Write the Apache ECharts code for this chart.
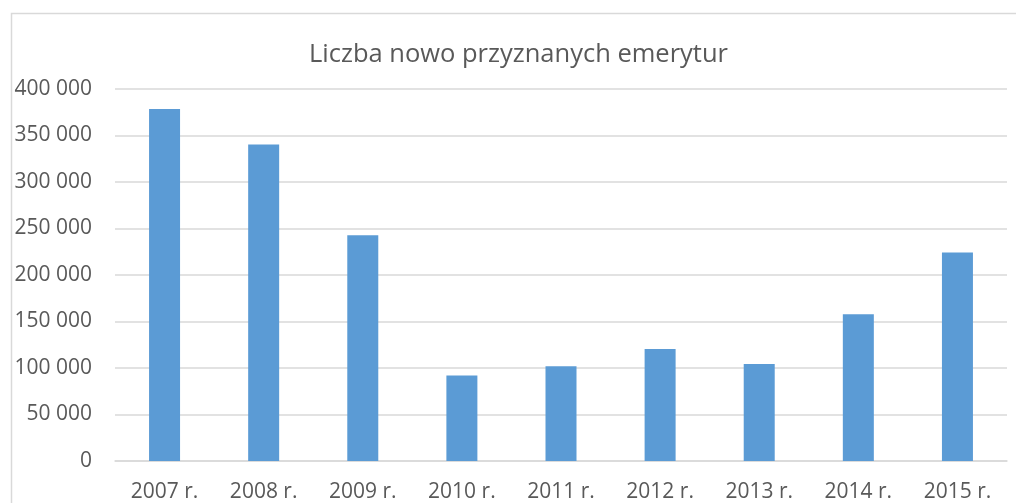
<!DOCTYPE html>
<html>
<head>
<meta charset="utf-8">
<script src="https://cdn.jsdelivr.net/npm/echarts@6/dist/echarts.min.js"></script>
<style>
  html, body { margin: 0; padding: 0; background: #fff; }
  #chart { width: 1016px; height: 503px; }
</style>
</head>
<body>
<div id="chart"></div>
<script>
const categories = ['2007 r.', '2008 r.', '2009 r.', '2010 r.', '2011 r.', '2012 r.', '2013 r.', '2014 r.', '2015 r.'];
const values = [378500, 340200, 242800, 92000, 102000, 120300, 104200, 157900, 224100];
const titleText = 'Liczba nowo przyznanych emerytur';

const textColor = '#595959';
const lineColor = '#d9d9d9';
const barColor = '#5b9bd5';
const font = '"Open Sans", "Noto Sans", sans-serif';

// 400000 -> "400 000"
const fmt = (v) => String(v).replace(/\B(?=(\d{3})+(?!\d))/g, ' ');

const myChart = echarts.init(document.getElementById('chart'));
myChart.setOption({
  animation: false,
  title: {
    text: titleText,
    left: 513.5,
    textAlign: 'center',
    top: 37,
    textStyle: { color: textColor, fontSize: 25.5, fontWeight: 'normal', fontFamily: font }
  },
  // outer chart-area frame
  graphic: [{
    type: 'rect',
    shape: { x: 11.5, y: 13.5, width: 1030, height: 520 },
    style: { fill: 'none', stroke: lineColor, lineWidth: 1.5 },
    silent: true
  }],
  grid: { left: 115, right: 9, top: 89, bottom: 42 },
  xAxis: {
    type: 'category',
    data: categories,
    axisLine: { lineStyle: { color: lineColor, width: 1.5 } },
    axisTick: { show: false },
    axisLabel: { color: textColor, fontSize: 21, fontFamily: font, margin: 21 }
  },
  yAxis: {
    type: 'value',
    min: 0,
    max: 400000,
    interval: 50000,
    axisLine: { show: false },
    axisTick: { show: false },
    splitLine: { lineStyle: { color: lineColor, width: 1.5 } },
    axisLabel: { color: textColor, fontSize: 21, fontFamily: font, margin: 23, formatter: fmt }
  },
  series: [{
    type: 'bar',
    data: values,
    barWidth: 31,
    itemStyle: { color: barColor }
  }]
});
</script>
</body>
</html>
